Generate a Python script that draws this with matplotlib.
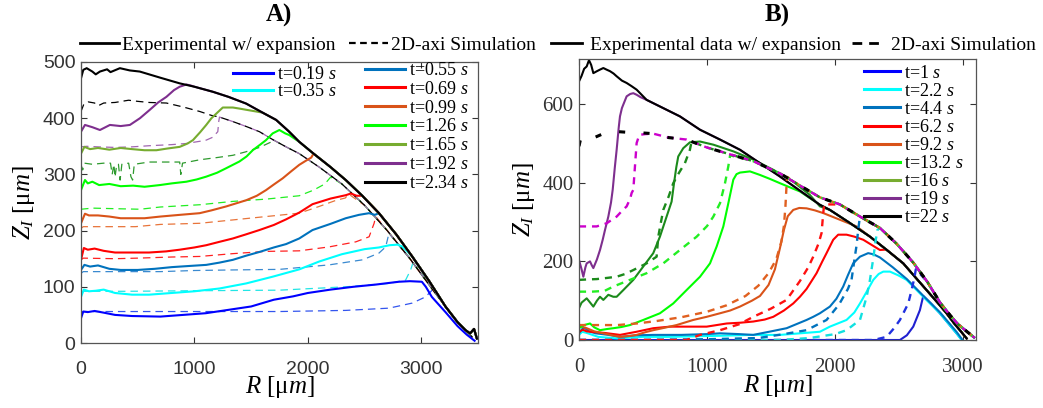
import matplotlib
matplotlib.use('Agg')
import matplotlib.pyplot as plt
from matplotlib.lines import Line2D

plt.rcParams['mathtext.fontset'] = 'custom'
plt.rcParams['mathtext.rm'] = 'Liberation Serif'
plt.rcParams['mathtext.it'] = 'Liberation Serif:italic'
plt.rcParams['mathtext.bf'] = 'Liberation Serif:bold'

SERIF = 'Liberation Serif'
SANS = 'Liberation Sans'

# ---------------- panel A data (R in um, Z_I in um) ----------------
a_labels = ['t=0.19 $s$', 't=0.35 $s$', 't=0.55 $s$', 't=0.69 $s$', 't=0.99 $s$',
            't=1.26 $s$', 't=1.65 $s$', 't=1.92 $s$', 't=2.34 $s$']
a_colors = ['#0000FF', '#00FFFF', '#0072BD', '#FF0000', '#D95319',
            '#00FF00', '#77AC30', '#7E2F8E', '#000000']
a_sim_colors = ['#3355EE', '#22E5E5', '#3A8AD0', '#FF2020', '#E8743A',
                '#22EE22', '#2E9A2E', '#A066B0', '#000000']

# common falling edge of the experimental profiles
a_env = [(1000, 456), (1163, 447), (1300, 438), (1456, 426), (1600, 410), (1720, 397),
         (1830, 377), (1924, 358), (2050, 337), (2200, 313), (2334, 290), (2480, 262),
         (2627, 231), (2780, 193), (2920, 154), (3070, 110), (3213, 65), (3320, 37),
         (3389, 23), (3430, 17), (3465, 25), (3490, 8)]
a_sim_env = [(1221, 402), (1339, 394), (1460, 385), (1573, 376), (1690, 362), (1808, 349),
             (1924, 337), (2100, 313), (2300, 283), (2500, 245), (2700, 200), (2900, 150),
             (3100, 95), (3300, 42), (3450, 10)]

a_exp_019 = [(0, 44), (20, 56), (60, 55), (120, 57), (200, 54), (300, 50), (450, 48), (700, 47),
             (900, 50), (1100, 53), (1300, 59), (1500, 65), (1700, 77), (1870, 83), (2000, 89),
             (2200, 95), (2400, 100), (2600, 104), (2803, 109), (2900, 110), (3005, 109),
             (3040, 100), (3093, 82), (3213, 55), (3320, 30), (3400, 15), (3470, 4)]
a_exp_035 = [(0, 82), (25, 95), (70, 92), (130, 93), (200, 95), (300, 89), (450, 86), (600, 86),
             (800, 89), (1000, 92), (1221, 97), (1456, 106), (1690, 118), (1924, 131),
             (2100, 145), (2300, 158), (2500, 167), (2627, 170), (2720, 174), (2790, 175),
             (2830, 172)]
a_exp_055 = [(0, 130), (30, 139), (80, 136), (150, 138), (250, 132), (350, 130), (500, 130),
             (650, 132), (800, 135), (950, 137), (1104, 139), (1220, 143), (1339, 148),
             (1450, 155), (1573, 162), (1700, 170), (1808, 176), (1924, 186), (2041, 201),
             (2200, 212), (2334, 222), (2450, 228), (2540, 231), (2590, 228)]
a_exp_069 = [(0, 148), (25, 169), (60, 166), (120, 168), (200, 164), (300, 161), (450, 161),
             (600, 161), (750, 163), (870, 166), (1000, 170), (1104, 174), (1220, 180),
             (1339, 186), (1450, 193), (1573, 201), (1700, 210), (1808, 220), (1924, 232),
             (2041, 247), (2200, 257), (2334, 263), (2379, 266), (2430, 262)]
a_exp_099 = [(0, 213), (35, 230), (70, 227), (150, 227), (250, 225), (350, 222), (450, 222),
             (560, 222), (700, 225), (870, 228), (1046, 231), (1150, 236), (1280, 243),
             (1456, 254), (1550, 262), (1631, 272), (1700, 282), (1778, 293), (1850, 305),
             (1924, 317), (1980, 324), (2030, 330)]
a_exp_126 = [(0, 272), (35, 290), (60, 284), (100, 287), (160, 281), (250, 283), (350, 279),
             (460, 280), (560, 278), (694, 281), (800, 284), (929, 287), (1020, 291),
             (1104, 296), (1200, 303), (1280, 311), (1397, 323), (1460, 332), (1514, 343),
             (1580, 353), (1631, 361), (1690, 373), (1749, 379), (1800, 373), (1836, 370)]
a_exp_165 = [(0, 337), (30, 349), (80, 345), (150, 347), (250, 344), (350, 347), (450, 345),
             (560, 343), (665, 343), (760, 346), (870, 349), (940, 355), (987, 361),
             (1050, 375), (1104, 388), (1150, 400), (1192, 408), (1250, 419), (1339, 419),
             (1400, 417), (1456, 415)]
a_exp_192 = [(0, 376), (35, 388), (100, 384), (167, 379), (255, 388), (350, 386), (431, 388),
             (520, 400), (607, 415), (680, 428), (753, 438), (820, 450), (870, 456),
             (929, 460), (970, 458)]
a_exp_234 = [(0, 471), (20, 486), (50, 489), (100, 483), (130, 478), (167, 483), (230, 487),
             (260, 482), (343, 489), (430, 485), (518, 483), (700, 472), (870, 462)]

a_sim_019 = [(0, 53), (20, 56), (500, 56), (1200, 56), (1749, 56), (2334, 58), (2715, 62),
             (2920, 71), (3037, 82), (3096, 94)]
a_sim_035 = [(0, 89), (20, 92), (400, 92), (1000, 93), (1749, 94), (2334, 100), (2715, 106),
             (2862, 112), (2906, 130), (2935, 148)]
a_sim_055 = [(0, 124), (20, 127), (300, 127), (700, 127), (1000, 129), (1339, 130),
             (1749, 131), (2188, 139), (2482, 148), (2627, 160), (2686, 171), (2715, 195)]
a_sim_069 = [(0, 148), (20, 151), (300, 150), (500, 151), (800, 153), (1046, 154), (1339, 159),
             (1631, 163), (1924, 164), (2188, 171), (2423, 180), (2540, 189), (2584, 213),
             (2598, 225)]
a_sim_099 = [(0, 204), (20, 207), (200, 207), (480, 207), (700, 211), (1046, 213),
             (1339, 219), (1631, 225), (1924, 231), (2100, 243), (2250, 254), (2330, 258),
             (2360, 265)]
a_sim_126 = [(0, 238), (100, 240), (300, 239), (520, 238), (700, 242), (1046, 246),
             (1339, 252), (1631, 256), (1924, 262), (2050, 272), (2150, 283), (2200, 295)]
a_sim_165 = [(0, 317), (15, 308), (30, 320), (100, 318), (200, 320), (260, 320), (275, 300),
             (290, 318), (300, 295), (315, 318), (330, 318), (345, 290), (360, 318),
             (420, 320), (440, 296), (455, 290), (470, 318), (600, 322), (800, 322),
             (870, 322), (880, 300), (895, 320), (1046, 326), (1200, 330), (1339, 334),
             (1450, 340), (1573, 348), (1680, 358)]
a_sim_192 = [(0, 349), (50, 350), (150, 349), (300, 348), (450, 349), (600, 351), (800, 353),
             (929, 355), (1050, 359), (1104, 361), (1160, 366), (1206, 376), (1215, 395)]
a_sim_234 = [(0, 412), (25, 425), (64, 429), (120, 427), (150, 422), (200, 427), (300, 428),
             (420, 432), (500, 430), (600, 428), (753, 427), (900, 420), (1046, 412),
             (1150, 405)]

# ---------------- panel B data ----------------
b_labels = ['t=1 $s$', 't=2.2 $s$', 't=4.4 $s$', 't=6.2 $s$', 't=9.2 $s$',
            't=13.2 $s$', 't=16 $s$', 't=19 $s$', 't=22 $s$']
b_legend_colors = ['#0000FF', '#00FFFF', '#0072BD', '#FF0000', '#D95319',
                   '#00FF00', '#77AC30', '#7E2F8E', '#000000']
b_colors = ['#2020D0', '#00FFFF', '#0072BD', '#FF0000', '#D95319',
            '#00FF00', '#1B8A1B', '#7E2F8E', '#000000']
b_sim_colors = ['#2030E0', '#10E0E0', '#0072BD', '#FF1010', '#E06020',
                '#22EE22', '#1B8A1B', '#CC00CC', '#000000']

b_env = [(450, 637), (528, 611), (658, 590), (788, 569), (945, 535), (1101, 510),
         (1257, 484), (1413, 450), (1569, 416), (1725, 380), (1881, 344), (1959, 331),
         (2100, 301), (2272, 263), (2400, 230), (2532, 195), (2620, 162), (2714, 127),
         (2800, 95), (2870, 68), (2930, 42), (2974, 25), (3027, 4)]
b_sim_env = [(450, 528), (580, 525), (700, 515), (840, 510), (997, 490), (1153, 475),
             (1361, 455), (1569, 424), (1725, 393), (1881, 363), (2037, 345), (2200, 313),
             (2350, 285), (2480, 245), (2610, 197), (2720, 148), (2818, 96), (2900, 62),
             (2960, 40), (3027, 22), (3091, 5)]

b_exp_1 = [(0, 0), (500, 0), (1000, 0), (1500, 0), (2000, 0), (2506, 0), (2560, 12),
           (2610, 34), (2662, 76), (2688, 112), (2750, 92), (2818, 68), (2948, 17), (2990, 0)]
b_exp_2 = [(0, 13), (25, 21), (60, 18), (150, 8), (300, 4), (500, 8), (700, 8), (1000, 10),
           (1361, 13), (1569, 13), (1881, 21), (1959, 34), (2089, 51), (2150, 70), (2194, 93),
           (2250, 125), (2298, 153), (2340, 168), (2376, 174), (2428, 174), (2490, 165),
           (2558, 153), (2688, 110), (2818, 68), (2948, 17), (2987, 0)]
b_exp_4 = [(0, 17), (25, 28), (47, 30), (80, 22), (130, 17), (230, 13), (320, 8), (450, 12),
           (580, 13), (800, 13), (1000, 15), (1101, 17), (1250, 15), (1361, 13), (1500, 22),
           (1621, 30), (1777, 51), (1829, 59), (1881, 68), (1959, 85), (2010, 105),
           (2063, 136), (2100, 165), (2141, 195), (2194, 212), (2258, 221), (2300, 218),
           (2350, 210), (2450, 185), (2560, 155), (2690, 112), (2820, 70), (2950, 20),
           (2995, 0)]
b_exp_6 = [(0, 21), (30, 26), (60, 22), (120, 20), (200, 18), (320, 13), (450, 21), (580, 30),
           (710, 34), (840, 34), (997, 34), (1153, 42), (1260, 44), (1361, 47), (1450, 52),
           (1517, 59), (1600, 75), (1673, 93), (1725, 110), (1777, 130), (1855, 170),
           (1900, 200), (1933, 221), (1985, 255), (2024, 268), (2089, 268), (2150, 263),
           (2220, 255), (2350, 229)]
b_exp_9 = [(0, 38), (30, 33), (60, 30), (120, 22), (190, 17), (260, 12), (320, 8), (390, 10),
           (450, 13), (520, 20), (580, 25), (680, 32), (762, 38), (892, 51), (997, 59),
           (1101, 68), (1180, 75), (1257, 85), (1350, 100), (1413, 112), (1480, 140),
           (1530, 180), (1570, 235), (1600, 280), (1630, 315), (1673, 331), (1720, 336),
           (1777, 335), (1840, 330), (1907, 323), (2037, 306), (2168, 289)]
b_exp_13 = [(0, 30), (40, 38), (86, 42), (120, 32), (164, 25), (220, 28), (268, 30), (330, 33),
            (398, 38), (502, 51), (632, 68), (736, 93), (840, 127), (945, 161), (1023, 195),
            (1075, 238), (1127, 289), (1166, 348), (1190, 385), (1205, 408), (1230, 422),
            (1257, 426), (1335, 429), (1413, 420), (1490, 410), (1569, 399), (1650, 388),
            (1725, 378)]
b_exp_16 = [(0, 81), (20, 95), (60, 106), (85, 96), (112, 85), (140, 100), (164, 110),
            (190, 102), (229, 115), (268, 110), (294, 110), (346, 127), (424, 153), (502, 187),
            (580, 221), (632, 263), (684, 314), (723, 352), (742, 399), (760, 440), (775, 467),
            (814, 488), (866, 503), (945, 505), (1049, 497), (1205, 480), (1361, 459),
            (1517, 433), (1673, 403), (1803, 369), (1881, 340)]
b_exp_19 = [(0, 204), (20, 180), (34, 161), (50, 185), (60, 195), (86, 200), (100, 190),
            (112, 183), (140, 205), (164, 229), (185, 255), (203, 280), (229, 314), (250, 350),
            (263, 382), (280, 440), (294, 484), (310, 540), (320, 569), (335, 590), (346, 599),
            (372, 620), (400, 626), (424, 628), (450, 624), (480, 618)]
b_exp_22 = [(0, 658), (20, 672), (40, 690), (60, 696), (78, 712), (95, 700), (112, 679),
            (140, 684), (164, 688), (190, 692), (215, 688), (242, 684), (270, 678), (294, 671),
            (335, 660), (372, 654), (410, 646)]

b_sim_1 = [(0, 0), (800, 0), (1600, 0), (2300, 0), (2402, 8), (2460, 30), (2506, 51),
           (2571, 93), (2597, 127), (2620, 160), (2630, 180)]
b_sim_2 = [(0, 0), (600, 0), (1200, 0), (1569, 0), (1800, 5), (2000, 15), (2089, 25),
           (2194, 51), (2246, 110), (2272, 153), (2298, 208), (2315, 250), (2330, 280)]
b_sim_4 = [(0, 0), (500, 0), (1000, 2), (1400, 5), (1600, 15), (1777, 25), (1933, 51),
           (2030, 90), (2100, 130), (2128, 153), (2154, 212), (2168, 242), (2180, 280),
           (2190, 305)]
b_sim_6 = [(0, 0), (300, 0), (600, 0), (840, 0), (945, 13), (1101, 25), (1250, 40), (1361, 59),
           (1500, 80), (1621, 102), (1725, 150), (1790, 185), (1829, 212), (1870, 245),
           (1894, 272), (1907, 323), (1915, 345)]
b_sim_9 = [(0, 38), (100, 38), (300, 38), (450, 42), (600, 48), (800, 58), (1000, 72),
           (1150, 88), (1300, 112), (1400, 138), (1480, 170), (1540, 205), (1580, 250),
           (1600, 290), (1612, 340), (1620, 390), (1625, 415)]
b_sim_13 = [(0, 123), (100, 123), (200, 125), (268, 136), (398, 153), (528, 170), (658, 195),
            (788, 229), (919, 263), (1000, 290), (1049, 314), (1101, 348), (1140, 399),
            (1166, 442), (1180, 470)]
b_sim_16 = [(0, 153), (60, 154), (138, 155), (220, 158), (294, 161), (360, 168), (424, 178),
            (528, 195), (606, 212), (619, 263), (640, 300), (658, 331), (700, 365), (736, 399),
            (780, 425), (827, 450), (850, 470), (866, 484), (879, 505)]
b_sim_19 = [(0, 289), (60, 289), (138, 289), (216, 297), (294, 314), (340, 330), (372, 340),
            (400, 360), (411, 374), (424, 382), (437, 442), (450, 501), (471, 522), (520, 524)]
b_sim_22 = [(0, 493), (10, 508), (21, 518), (112, 514), (190, 525), (268, 531), (400, 528)]


def with_tail(pts, env):
    last = pts[-1][0]
    return pts + [p for p in env if p[0] > last]


def xy(pts):
    return [p[0] for p in pts], [p[1] for p in pts]


a_exp = [a_exp_019] + [with_tail(s, a_env) for s in
                       [a_exp_035, a_exp_055, a_exp_069, a_exp_099, a_exp_126,
                        a_exp_165, a_exp_192, a_exp_234]]
a_sim = [with_tail(s, a_sim_env) for s in
         [a_sim_019, a_sim_035, a_sim_055, a_sim_069, a_sim_099,
          a_sim_126, a_sim_165, a_sim_192, a_sim_234]]

b_exp = [b_exp_1, b_exp_2, b_exp_4] + [with_tail(s, b_env) for s in
                                       [b_exp_6, b_exp_9, b_exp_13, b_exp_16, b_exp_19,
                                        b_exp_22]]
b_sim = [with_tail(s, b_sim_env) for s in
         [b_sim_1, b_sim_2, b_sim_4, b_sim_6, b_sim_9, b_sim_13, b_sim_16, b_sim_19,
          b_sim_22]]

fig = plt.figure(figsize=(10.43, 4.08), dpi=100)
axA = fig.add_axes([81 / 1043, 65 / 408, 397 / 1043, 281 / 408])
axB = fig.add_axes([579 / 1043, 68 / 408, 397 / 1043, 281 / 408])

# ---- panel A ----
for pts, c in zip(a_sim, a_sim_colors):
    x, y = xy(pts)
    axA.plot(x, y, color=c, lw=0.9, linestyle=(0, (6, 4)))
for pts, c in zip(a_exp, a_colors):
    x, y = xy(pts)
    axA.plot(x, y, color=c, lw=1.5, solid_joinstyle='round')

axA.set_xlim(0, 3500)
axA.set_ylim(0, 500)
axA.set_xticks([0, 1000, 2000, 3000])
axA.set_yticks([0, 100, 200, 300, 400, 500])
for lab in axA.get_xticklabels() + axA.get_yticklabels():
    lab.set_fontfamily(SANS)
    lab.set_fontsize(14)
    lab.set_color('#262626')

h_a = [Line2D([], [], color=c, lw=2.2) for c in a_colors]
legA1 = axA.legend(h_a[:2], a_labels[:2], loc='upper left', bbox_to_anchor=(0.383, 0.985),
                   frameon=False, prop={'family': SERIF, 'size': 13}, handlelength=2.2,
                   handletextpad=0.25, labelspacing=0.0, borderpad=0, borderaxespad=0)
axA.add_artist(legA1)
axA.legend(h_a[2:], a_labels[2:], loc='upper left', bbox_to_anchor=(0.715, 1.0),
           frameon=False, prop={'family': SERIF, 'size': 13}, handlelength=2.2,
           handletextpad=0.25, labelspacing=0.1, borderpad=0, borderaxespad=0)

# ---- panel B ----
for pts, c in zip(b_exp, b_colors):
    x, y = xy(pts)
    axB.plot(x, y, color=c, lw=1.5, solid_joinstyle='round')
for i, (pts, c) in enumerate(zip(b_sim, b_sim_colors)):
    x, y = xy(pts)
    if i == 8:
        axB.plot(x, y, color=c, lw=2.2, linestyle=(0, (2, 6)))
    else:
        axB.plot(x, y, color=c, lw=1.7, linestyle=(0, (3, 2.5)))

axB.set_xlim(0, 3100)
axB.set_ylim(0, 715)
axB.set_xticks([0, 1000, 2000, 3000])
axB.set_yticks([0, 200, 400, 600])
for lab in axB.get_xticklabels() + axB.get_yticklabels():
    lab.set_fontfamily(SERIF)
    lab.set_fontsize(15)
    lab.set_color('#333333')

h_b = [Line2D([], [], color=c, lw=2.2) for c in b_legend_colors]
axB.legend(h_b, b_labels, loc='upper left', bbox_to_anchor=(0.718, 0.98),
           frameon=False, prop={'family': SERIF, 'size': 13}, handlelength=2.0,
           handletextpad=0.2, labelspacing=0.06, borderpad=0, borderaxespad=0)

for ax in (axA, axB):
    ax.tick_params(direction='in', top=True, right=True, length=4, width=0.8,
                   colors='#333333')
    ax.tick_params(axis='x', pad=13)
    ax.tick_params(axis='y', pad=4)
    for sp in ax.spines.values():
        sp.set_color('#555555')
        sp.set_linewidth(0.9)
    ax.set_xlabel('$R$ [μ$m$]', fontsize=18, family=SERIF, labelpad=-3)
    ax.set_ylabel('$Z_I$ [μ$m$]', fontsize=18, family=SERIF, labelpad=4)

fig.text(279 / 1043, 1 - 15 / 408, 'A)', ha='center', va='center', family=SERIF,
         fontsize=18, fontweight='bold')
fig.text(777 / 1043, 1 - 15 / 408, 'B)', ha='center', va='center', family=SERIF,
         fontsize=18, fontweight='bold')

# header legends
hdrA = [Line2D([], [], color='black', lw=2.0),
        Line2D([], [], color='black', lw=1.6, linestyle=(0, (3, 2)))]
fig.legend(hdrA, ['Experimental w/ expansion', '2D-axi Simulation'], loc='center left',
           bbox_to_anchor=(80 / 1043, 1 - 45 / 408), ncol=2, frameon=False,
           prop={'family': SERIF, 'size': 14}, handlelength=2.0, handletextpad=0.15,
           columnspacing=0.7, borderpad=0, borderaxespad=0)
hdrB = [Line2D([], [], color='black', lw=2.0),
        Line2D([], [], color='black', lw=2.0, linestyle=(0, (3.5, 2.5)))]
fig.legend(hdrB, ['Experimental data w/ expansion', '2D-axi Simulation'], loc='center right',
           bbox_to_anchor=(1036 / 1043, 1 - 45 / 408), ncol=2, frameon=False,
           prop={'family': SERIF, 'size': 14}, handlelength=1.6, handletextpad=0.4,
           columnspacing=0.6, borderpad=0, borderaxespad=0)

fig.savefig('out.png', dpi=100)
